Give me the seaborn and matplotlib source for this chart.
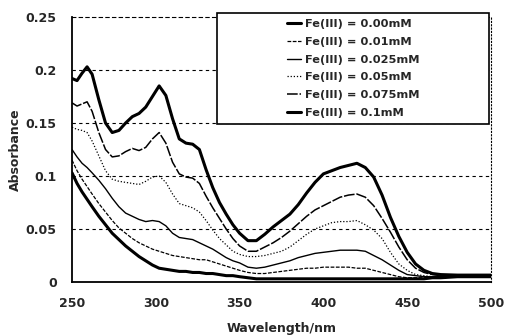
import matplotlib
matplotlib.use("Agg")
import matplotlib.pyplot as plt
import seaborn as sns
import pandas as pd
from matplotlib.patches import Rectangle

wavelength = [250, 253, 256, 259, 262, 266, 270, 274, 278, 282, 286, 290, 294, 298, 302,
              306, 310, 314, 318, 322, 326, 330, 334, 338, 342, 346, 350, 355, 360, 365,
              370, 375, 380, 385, 390, 395, 400, 405, 410, 415, 420, 425, 430, 435, 440,
              445, 450, 455, 460, 465, 470, 480, 490, 500]

fe_000 = [0.103, 0.093, 0.085, 0.078, 0.071, 0.062, 0.054, 0.046, 0.040, 0.034, 0.029, 0.024,
          0.020, 0.016, 0.013, 0.012, 0.011, 0.010, 0.010, 0.009, 0.009, 0.008, 0.008, 0.007,
          0.006, 0.006, 0.005, 0.004, 0.003, 0.003, 0.003, 0.003, 0.003, 0.003, 0.003, 0.003,
          0.003, 0.003, 0.003, 0.003, 0.003, 0.003, 0.003, 0.003, 0.003, 0.003, 0.003, 0.003,
          0.003, 0.004, 0.004, 0.005, 0.005, 0.005]
fe_001 = [0.115, 0.105, 0.097, 0.090, 0.083, 0.074, 0.066, 0.058, 0.051, 0.046, 0.041, 0.037,
          0.034, 0.031, 0.029, 0.027, 0.025, 0.024, 0.023, 0.022, 0.021, 0.021, 0.019, 0.017,
          0.015, 0.013, 0.011, 0.009, 0.008, 0.008, 0.009, 0.010, 0.011, 0.012, 0.013, 0.013,
          0.014, 0.014, 0.014, 0.014, 0.013, 0.013, 0.011, 0.009, 0.007, 0.005, 0.004, 0.004,
          0.004, 0.004, 0.004, 0.005, 0.005, 0.005]
fe_0025 = [0.125, 0.118, 0.112, 0.108, 0.103, 0.096, 0.088, 0.079, 0.071, 0.065, 0.062, 0.059,
           0.057, 0.058, 0.057, 0.053, 0.046, 0.042, 0.041, 0.040, 0.037, 0.034, 0.031, 0.027,
           0.023, 0.020, 0.018, 0.014, 0.013, 0.014, 0.016, 0.018, 0.020, 0.023, 0.025, 0.027,
           0.028, 0.029, 0.030, 0.030, 0.030, 0.029, 0.025, 0.021, 0.016, 0.011, 0.007, 0.006,
           0.005, 0.005, 0.005, 0.005, 0.005, 0.005]
fe_005 = [0.146, 0.144, 0.143, 0.141, 0.133, 0.119, 0.105, 0.097, 0.095, 0.094, 0.093, 0.092,
          0.095, 0.099, 0.100, 0.094, 0.083, 0.074, 0.072, 0.070, 0.066, 0.058, 0.049, 0.041,
          0.035, 0.029, 0.026, 0.024, 0.024, 0.025, 0.027, 0.029, 0.033, 0.039, 0.045, 0.050,
          0.053, 0.056, 0.057, 0.057, 0.058, 0.054, 0.049, 0.041, 0.028, 0.017, 0.011, 0.007,
          0.006, 0.005, 0.005, 0.005, 0.005, 0.005]
fe_0075 = [0.169, 0.166, 0.168, 0.170, 0.161, 0.141, 0.125, 0.118, 0.119, 0.123, 0.126, 0.124,
           0.127, 0.135, 0.141, 0.131, 0.113, 0.102, 0.099, 0.098, 0.093, 0.081, 0.070, 0.060,
           0.050, 0.041, 0.034, 0.029, 0.029, 0.033, 0.037, 0.042, 0.048, 0.055, 0.062, 0.068,
           0.072, 0.076, 0.080, 0.082, 0.083, 0.080, 0.072, 0.060, 0.047, 0.033, 0.021, 0.013,
           0.009, 0.007, 0.006, 0.006, 0.0055, 0.0055]
fe_01 = [0.192, 0.190, 0.197, 0.203, 0.196, 0.172, 0.150, 0.141, 0.143, 0.150, 0.156, 0.159,
         0.165, 0.175, 0.185, 0.176, 0.154, 0.135, 0.131, 0.130, 0.125, 0.106, 0.089, 0.075,
         0.064, 0.054, 0.046, 0.039, 0.039, 0.045, 0.052, 0.058, 0.064, 0.073, 0.084, 0.094,
         0.102, 0.105, 0.108, 0.110, 0.112, 0.108, 0.099, 0.082, 0.061, 0.043, 0.028, 0.017,
         0.011, 0.008, 0.007, 0.0065, 0.0065, 0.0065]

labels = ["Fe(III) = 0.00mM", "Fe(III) = 0.01mM", "Fe(III) = 0.025mM",
          "Fe(III) = 0.05mM", "Fe(III) = 0.075mM", "Fe(III) = 0.1mM"]
series = [fe_000, fe_001, fe_0025, fe_005, fe_0075, fe_01]
x_ticks = [250, 300, 350, 400, 450, 500]
y_ticks = [0, 0.05, 0.1, 0.15, 0.2, 0.25]
y_ticklabels = ["0", "0.05", "0.1", "0.15", "0.2", "0.25"]

sns.set_style("white")
plt.rcParams['font.family'] = ['DejaVu Sans']
plt.rcParams['font.weight'] = 'bold'

styles = [
    dict(lw=2.2, ls='-'),
    dict(lw=0.9, ls=(0, (3, 1.2))),
    dict(lw=1.0, ls='-'),
    dict(lw=0.9, ls=(0, (1, 1.5))),
    dict(lw=1.1, ls=(0, (7, 1.2))),
    dict(lw=2.2, ls='-'),
]

fig = plt.figure(figsize=(5.05, 3.35), dpi=100)
ax = fig.add_axes([72 / 505, 1 - 282 / 335, 419 / 505, 265 / 335])

frames = []
for lab, vals in zip(labels, series):
    frames.append(pd.DataFrame({"Wavelength": wavelength, "Absorbance": vals, "Series": lab}))
df = pd.concat(frames, ignore_index=True)

for lab, st in zip(labels, styles):
    sub = df[df["Series"] == lab]
    sns.lineplot(data=sub, x="Wavelength", y="Absorbance", ax=ax, color="black",
                 linewidth=st['lw'], linestyle=st['ls'], label=lab, legend=False)

ax.set_xlim(250, 500)
ax.set_ylim(0, 0.25)
ax.set_xticks(x_ticks)
ax.set_yticks(y_ticks)
ax.set_yticklabels(y_ticklabels)
ax.tick_params(axis='both', direction='inout', length=6, width=1, labelsize=9)
ax.tick_params(axis='y', pad=8)
ax.tick_params(axis='x', pad=8)
for lbl in ax.get_xticklabels() + ax.get_yticklabels():
    lbl.set_fontweight('bold')

for yv in y_ticks[1:-1]:
    ax.axhline(yv, color='black', lw=0.8, ls=(0, (3, 3)), zorder=0)
ax.spines['top'].set_linestyle((0, (3, 3)))
ax.spines['top'].set_linewidth(0.8)
ax.spines['right'].set_linestyle((0, (1, 2)))
ax.spines['right'].set_linewidth(0.8)
ax.spines['left'].set_linewidth(1.3)
ax.spines['bottom'].set_linewidth(1.3)
for s in ax.spines.values():
    s.set_color('black')

ax.set_xlabel("Wavelength/nm", fontsize=9, fontweight='bold')
ax.set_ylabel("Absorbance", fontsize=9, fontweight='bold')
ax.xaxis.set_label_coords(0.5, -0.15)
ax.yaxis.set_label_coords(-0.12, 0.5)

rect = Rectangle((0.346, 0.596), 0.649, 0.419, transform=ax.transAxes, fill=True,
                 facecolor='white', edgecolor='black', lw=1.2, clip_on=False, zorder=5)
ax.add_patch(rect)
handles, lbls = ax.get_legend_handles_labels()
leg = ax.legend(handles, lbls, loc='center', bbox_to_anchor=(0.346 + 0.649 / 2, 0.596 + 0.419 / 2),
                frameon=False, fontsize=8.2, handlelength=1.3, handletextpad=0.3,
                labelspacing=0.68, borderaxespad=0)
leg.set_zorder(6)
for t in leg.get_texts():
    t.set_fontweight('bold')

fig.savefig("out.png", dpi=100)
